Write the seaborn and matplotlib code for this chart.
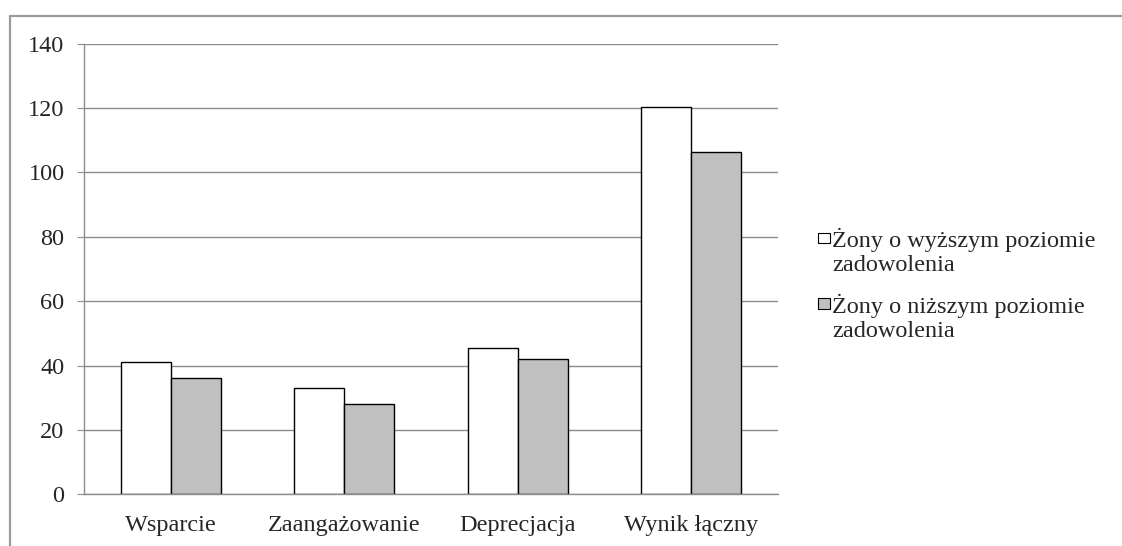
import pandas as pd
import matplotlib.pyplot as plt
import seaborn as sns
from matplotlib.lines import Line2D
from matplotlib.patches import Rectangle
from matplotlib.legend_handler import HandlerPatch

# Data
categories = ['Wsparcie', 'Zaangażowanie', 'Deprecjacja', 'Wynik łączny']
higher = [41.0, 32.9, 45.5, 120.3]
lower = [36.0, 28.0, 42.0, 106.3]
series_names = ['Żony o wyższym poziomie\nzadowolenia',
                'Żony o niższym poziomie\nzadowolenia']
y_ticks = [0, 20, 40, 60, 80, 100, 120, 140]

df = pd.DataFrame({
    'kategoria': categories * 2,
    'wartosc': higher + lower,
    'grupa': [series_names[0]] * 4 + [series_names[1]] * 4,
})

sns.set_style('white')
plt.rcParams['font.family'] = ['Liberation Serif', 'DejaVu Serif']
FS = 17.5


def top_square(legend, orig_handle, xdescent, ydescent, width, height, fontsize):
    # small square next to the first line of a two-line label
    return Rectangle((-xdescent, 0.7 * fontsize), width, width * 0.92)


fig = plt.figure(figsize=(11.22, 5.46), dpi=100)
ax = fig.add_axes([0.0749, 0.0947, 0.6185, 0.8256])

sns.barplot(data=df, x='kategoria', y='wartosc', hue='grupa',
            palette=['white', '#c0c0c0'], edgecolor='black', linewidth=1,
            width=0.575, saturation=1, ax=ax)

ax.set_xlim(-0.5, 3.5)
ax.set_ylim(0, 140)
ax.set_yticks(y_ticks)
ax.set_xlabel('')
ax.set_ylabel('')
ax.yaxis.grid(True, color='#8c8c8c', linewidth=1)
ax.set_axisbelow(True)

for side in ['top', 'right']:
    ax.spines[side].set_visible(False)
for side in ['left', 'bottom']:
    ax.spines[side].set_color('#8c8c8c')
    ax.spines[side].set_linewidth(1)

# category boundary ticks on x, label ticks hidden
ax.set_xticks([-0.5, 0.5, 1.5, 2.5, 3.5], minor=True)
ax.tick_params(axis='x', which='major', length=0, pad=15, labelsize=FS)
ax.tick_params(axis='x', which='minor', length=5, color='#8c8c8c', direction='out')
ax.tick_params(axis='y', length=5, color='#8c8c8c', direction='out', pad=9,
               labelsize=FS, left=True)

handles, labels = ax.get_legend_handles_labels()
leg = ax.legend(handles, labels, loc='upper left', bbox_to_anchor=(0.7205, 0.6),
                bbox_transform=fig.transFigure, frameon=False,
                fontsize=FS, handlelength=0.48, handleheight=0.7,
                handletextpad=0.1, labelspacing=0.72, borderaxespad=0,
                handler_map={h: HandlerPatch(patch_func=top_square) for h in handles})
for patch in leg.get_patches():
    patch.set_linewidth(0.8)

# outer frame of the chart area
fig.add_artist(Line2D([10 / 1122, 10 / 1122], [0, 1 - 16 / 546],
                      transform=fig.transFigure, color='#9a9a9a', linewidth=1.6))
fig.add_artist(Line2D([10 / 1122, 1], [1 - 16 / 546, 1 - 16 / 546],
                      transform=fig.transFigure, color='#9a9a9a', linewidth=1.6))

fig.savefig('out.png', dpi=100)
